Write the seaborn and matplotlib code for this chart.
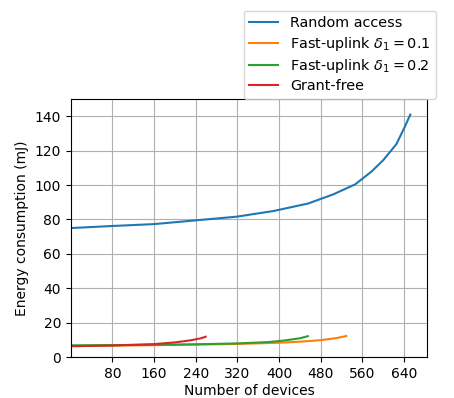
import matplotlib
matplotlib.use("Agg")
import matplotlib.pyplot as plt
import seaborn as sns
import pandas as pd

# Data
ra_x = [0, 80, 160, 248, 318, 389, 456, 504, 546, 578, 600, 625, 640, 652]
ra_y = [75.0, 76.2, 77.3, 79.7, 81.6, 84.9, 89.3, 94.6, 100.4, 108.0, 114.5, 123.7, 133.0, 141.0]

fu1_x = [0, 80, 160, 240, 320, 400, 440, 480, 510, 529]
fu1_y = [6.3, 6.6, 6.9, 7.2, 7.6, 8.3, 8.9, 9.8, 11.0, 12.2]

fu2_x = [0, 80, 160, 240, 320, 380, 410, 440, 455]
fu2_y = [6.8, 6.9, 7.1, 7.4, 7.9, 8.7, 9.6, 10.9, 12.1]

gf_x = [0, 80, 160, 200, 230, 250, 259]
gf_y = [6.3, 6.7, 7.5, 8.5, 9.7, 10.9, 11.8]

labels = ["Random access", r"Fast-uplink $\delta_1 = 0.1$",
          r"Fast-uplink $\delta_1 = 0.2$", "Grant-free"]
x_ticks = [80, 160, 240, 320, 400, 480, 560, 640]
y_ticks = [0, 20, 40, 60, 80, 100, 120, 140]

frames = []
for lab, xs, ys in zip(labels, [ra_x, fu1_x, fu2_x, gf_x], [ra_y, fu1_y, fu2_y, gf_y]):
    frames.append(pd.DataFrame({"x": xs, "y": ys, "series": lab}))
df = pd.concat(frames, ignore_index=True)

plt.rcParams["font.family"] = ["DejaVu Sans"]
fig = plt.figure(figsize=(4.54, 3.98), dpi=100)
ax = fig.add_axes([0.156, 0.103, 0.7845, 0.648])

sns.lineplot(data=df, x="x", y="y", hue="series", hue_order=labels,
             palette=sns.color_palette("tab10", 4), ax=ax, linewidth=1.5,
             sort=False, estimator=None)

ax.set_xlim(0, 684)
ax.set_ylim(0, 150)
ax.set_xticks(x_ticks)
ax.set_yticks(y_ticks)
ax.grid(True, color="#b0b0b0", linewidth=0.8)
ax.set_axisbelow(True)
ax.set_xlabel("Number of devices", fontsize=10, labelpad=2)
ax.set_ylabel("Energy consumption (mJ)", fontsize=10)
ax.tick_params(labelsize=10)

ax.legend(loc="lower right", bbox_to_anchor=(1.025, 1.0), borderaxespad=0,
          fontsize=10.4, labelspacing=0.3, frameon=True, title=None)

fig.savefig("out.png", dpi=100)
